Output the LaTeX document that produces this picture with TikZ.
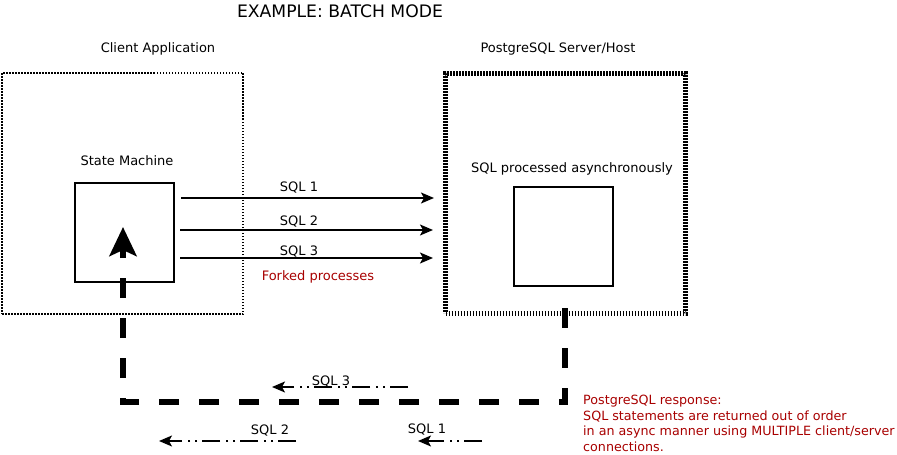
\documentclass[tikz,border=0pt]{standalone}
\usepackage{fontspec}
\setmainfont{DejaVu Sans}
\usepackage{tikz}
\usetikzlibrary{arrows.meta}
\usetikzlibrary{calc}

\definecolor{respred}{RGB}{168,0,0}

\begin{document}
\begin{tikzpicture}[x=1pt, y=-1pt, >={Stealth[length=13pt,width=11pt,inset=3pt]},
    txt/.style={font=\fontsize{13}{15.5}\selectfont, inner sep=0pt},
    box/.style={draw, line width=1.5pt, minimum size=99pt, inner sep=0pt},
    sendline/.style={->, line width=1.5pt},
    backline/.style={->, line width=1.5pt, dash pattern=on 18pt off 5pt on 2pt off 5pt on 2pt off 6pt}]
    \useasboundingbox (0,0) rectangle (897,455);

    % Title and headings
    \node[txt, font=\fontsize{17.2}{19}\selectfont] (Title) at (340,11) {EXAMPLE: BATCH MODE};
    \node[txt] (ClientLbl) at (158,49) {Client Application};
    \node[txt] (ServerLbl) at (558,49) {PostgreSQL Server/Host};

    % Client application (dotted) and server (thick dashed)
    \node[draw, line width=1.5pt, dash pattern=on 1.5pt off 1.5pt, minimum size=241pt] (ClientBox) at (122.5,193.5) {};
    \node[draw, line width=5pt, dash pattern=on 1.7pt off 1.3pt, minimum size=240pt] (ServerBox) at (565.5,193.5) {};

    % State machine and processing boxes
    \node[box] (SMBox) at (124.5,232.5) {};
    \node[txt] (SMLbl) at (127,161) {State Machine};
    \node[box] (ProcBox) at (563.5,236.5) {};
    \node[txt] (ProcLbl) at (572,169) {SQL processed asynchronously};

    % Queries sent to the server
    \coordinate (S1a) at (181,198);
    \coordinate (S1b) at (434,198);
    \coordinate (S2a) at (180,230);
    \coordinate (S2b) at (433,230);
    \coordinate (S3a) at (180,258);
    \coordinate (S3b) at (433,258);
    \draw[sendline] (S1a) -- (S1b);
    \draw[sendline] (S2a) -- (S2b);
    \draw[sendline] (S3a) -- (S3b);
    \node[txt] (Sql1) at (299,188) {SQL 1};
    \node[txt] (Sql2) at (299,222) {SQL 2};
    \node[txt] (Sql3) at (299,252) {SQL 3};
    \node[txt, text=respred] (Forked) at (318,277) {Forked processes};

    % Response path back to the client
    \coordinate (RespStart) at (565,308);
    \coordinate (RespEnd) at (123,227);
    \draw[line width=6pt, dash pattern=on 20pt off 20pt,
          -{Stealth[length=29pt,width=27pt,inset=6pt]}]
        (RespStart) -- (RespStart |- 0,402) -- (RespEnd |- 0,402) -- (RespEnd);

    % Results returned out of order
    \coordinate (R3a) at (408,387);
    \coordinate (R3b) at (272,387);
    \coordinate (R2a) at (296,441);
    \coordinate (R2b) at (159,441);
    \coordinate (R1a) at (482,441);
    \coordinate (R1b) at (418,441);
    \draw[backline] (R3a) -- (R3b);
    \draw[backline] (R2a) -- (R2b);
    \draw[backline] (R1a) -- (R1b);
    \node[txt] (Ret3) at (331,382) {SQL 3};
    \node[txt] (Ret2) at (270,431) {SQL 2};
    \node[txt] (Ret1) at (427,430) {SQL 1};

    % Note on the response
    \node[txt, font=\fontsize{12.7}{15.5}\selectfont, text=respred, align=left, anchor=north west] (RespNote) at (583,395)
        {PostgreSQL response:\\SQL statements are returned out of order\\in an async manner using MULTIPLE client/server\\connections.};
\end{tikzpicture}
\end{document}
